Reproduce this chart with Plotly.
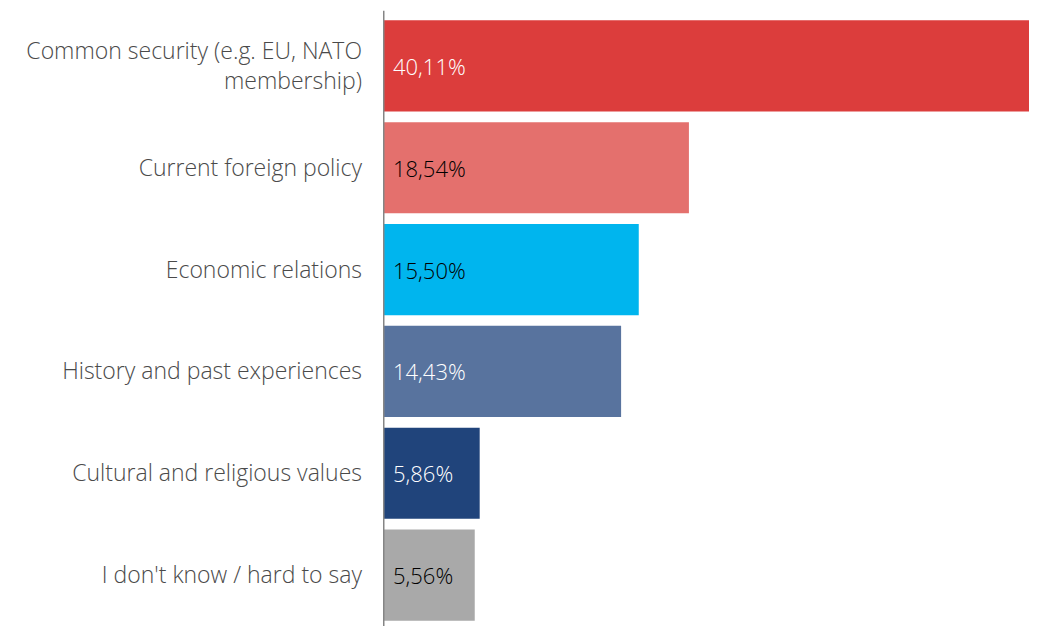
import plotly.graph_objects as go

# survey answers, top to bottom
categories = [
    "Common security (e.g. EU, NATO<br>membership)",
    "Current foreign policy",
    "Economic relations",
    "History and past experiences",
    "Cultural and religious values",
    "I don't know / hard to say",
]
values = [40.11, 18.54, 15.50, 14.43, 5.86, 5.56]
value_labels = ["40,11%", "18,54%", "15,50%", "14,43%", "5,86%", "5,56%"]

bar_colors = ["#DC3D3C", "#E4706D", "#00B5EE", "#58739E", "#20447B", "#A9A9A9"]
text_colors = ["white", "black", "black", "white", "white", "black"]

FONT = "Open Sans"

fig = go.Figure()

fig.add_trace(
    go.Bar(
        x=values,
        y=categories,
        orientation="h",
        marker=dict(color=bar_colors, line=dict(width=0)),
        hoverinfo="skip",
    )
)

# percentage labels inside bars, left aligned
for cat, lab, col in zip(categories, value_labels, text_colors):
    fig.add_annotation(
        x=0, y=cat, text=lab, showarrow=False,
        xanchor="left", xshift=8,
        font=dict(size=22, color=col, family=FONT, weight=300),
    )

# vertical baseline
fig.add_shape(
    type="line", xref="x", yref="paper",
    x0=0, x1=0, y0=-0.03, y1=1.007,
    line=dict(color="#858585", width=3),
)

fig.update_layout(
    width=1021,
    height=618,
    margin=dict(l=375, r=0, t=7, b=0),
    paper_bgcolor="white",
    plot_bgcolor="white",
    bargap=0.105,
    showlegend=False,
    font=dict(family=FONT, size=23, color="#4a4a4a", weight=300),
    xaxis=dict(
        range=[0, 39.15], visible=False, fixedrange=True,
    ),
    yaxis=dict(
        autorange="reversed", showgrid=False, zeroline=False,
        showline=False, ticks="", ticklabelstandoff=20,
        tickfont=dict(size=23, color="#4a4a4a", family=FONT, weight=300),
    ),
)

fig.write_html("out.html")
